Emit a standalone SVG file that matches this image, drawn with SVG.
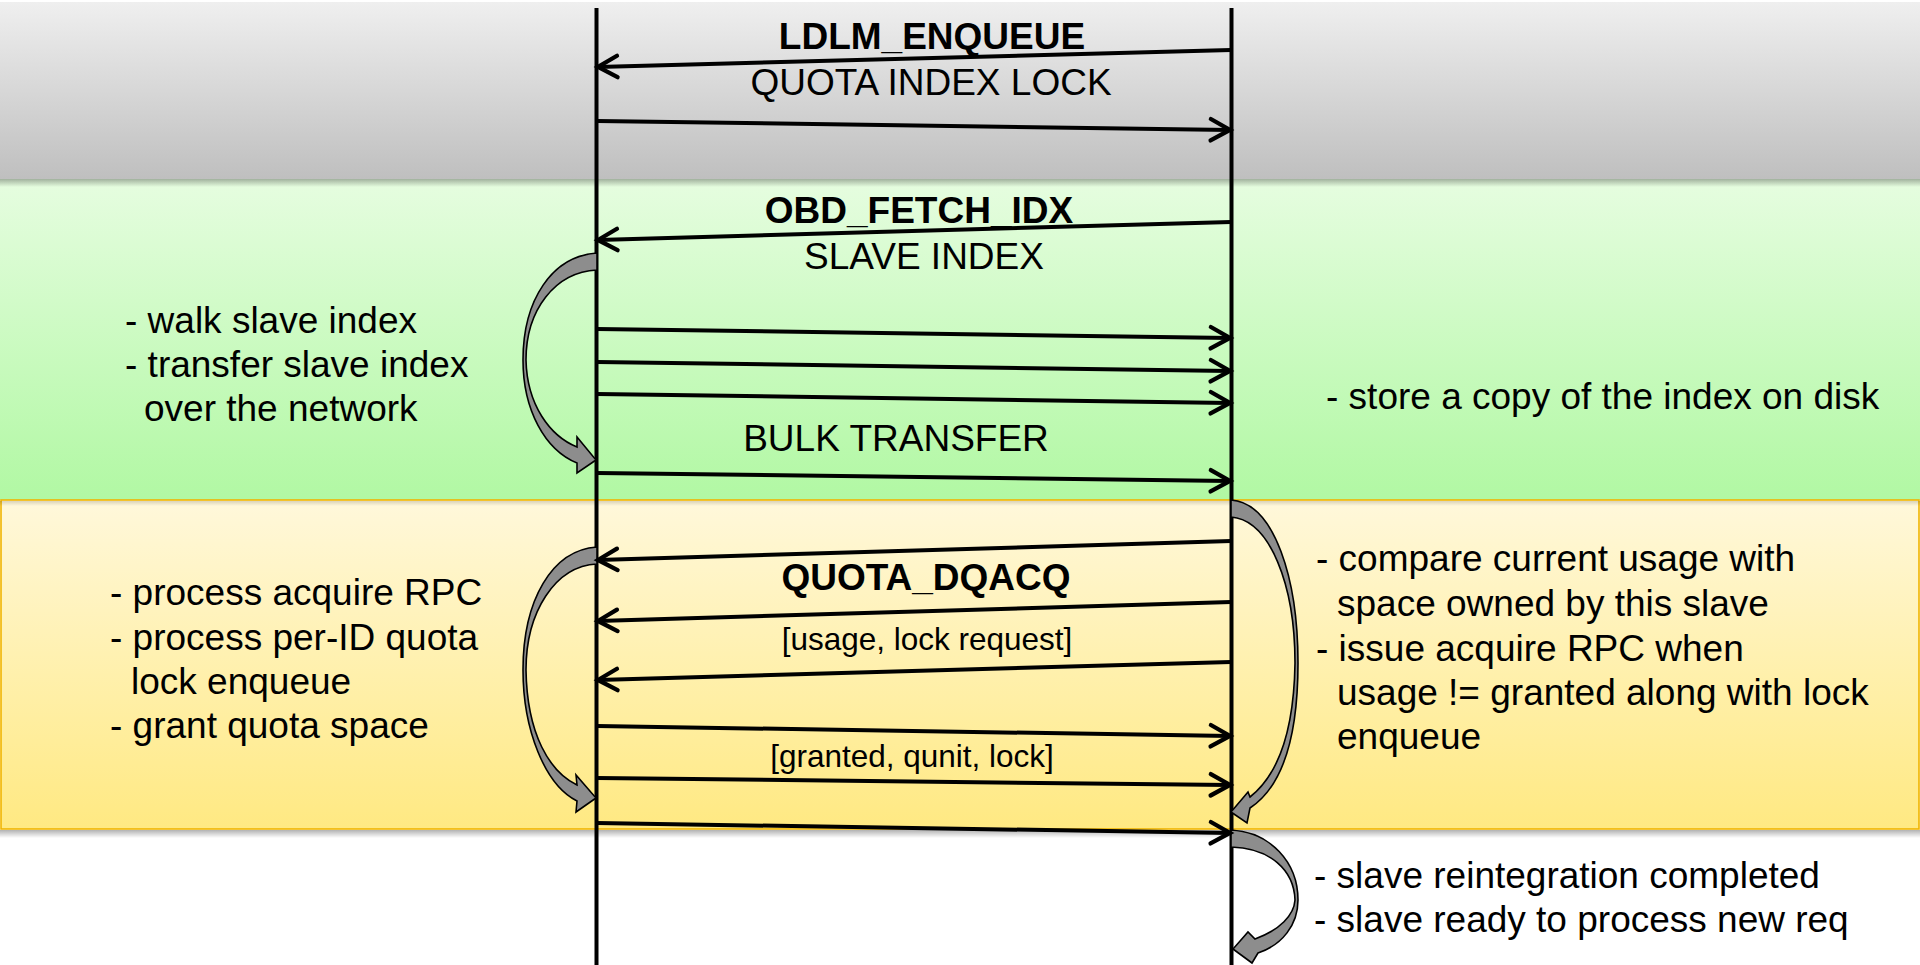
<svg xmlns="http://www.w3.org/2000/svg" width="1920" height="965" viewBox="0 0 1920 965">
  <defs>
    <linearGradient id="gGray" x1="0" y1="0" x2="0" y2="1">
      <stop offset="0" stop-color="#efefef"/>
      <stop offset="1" stop-color="#bfbfbf"/>
    </linearGradient>
    <linearGradient id="gGreen" x1="0" y1="0" x2="0" y2="1">
      <stop offset="0" stop-color="#e6fde0"/>
      <stop offset="1" stop-color="#b1f8a3"/>
    </linearGradient>
    <linearGradient id="gYellow" x1="0" y1="0" x2="0" y2="1">
      <stop offset="0" stop-color="#fff8db"/>
      <stop offset="1" stop-color="#ffe982"/>
    </linearGradient>
    <linearGradient id="gShadow" x1="0" y1="0" x2="0" y2="1">
      <stop offset="0" stop-color="#000" stop-opacity="0.30"/>
      <stop offset="1" stop-color="#000" stop-opacity="0"/>
    </linearGradient>
    <marker id="open" markerUnits="userSpaceOnUse" markerWidth="30" markerHeight="30" refX="0" refY="0" viewBox="-22 -14 26 28" orient="auto" overflow="visible">
      <path d="M -18 -10 L 0 0 L -18 10" fill="none" stroke="#000" stroke-width="4" stroke-linecap="round" stroke-linejoin="miter"/>
    </marker>
  </defs>
  <style>
    .life { stroke: #000; stroke-width: 4; fill: none; }
    .msg { stroke: #000; stroke-width: 4; fill: none; marker-end: url(#open); }
    .loop { fill: #8d8d8d; stroke: #000; stroke-width: 1.6; stroke-linejoin: miter; }
    .t { font-family: "Liberation Sans", Arial, sans-serif; font-size: 37px; fill: #000; }
    .b { font-weight: bold; }
    .s { font-size: 31.5px; }
    .c { text-anchor: middle; }
  </style>

  <!-- phase bands -->
  <g id="bands">
    <rect x="0" y="2" width="1920" height="177" fill="url(#gGray)"/>
    <rect x="0" y="179" width="1920" height="321" fill="url(#gGreen)"/>
    <rect x="1" y="500" width="1918" height="329" fill="url(#gYellow)" stroke="#f0b400" stroke-width="1.6"/>
    <rect x="0" y="179" width="1920" height="8" fill="url(#gShadow)"/>
    <rect x="0" y="501" width="1920" height="5" fill="url(#gShadow)" opacity="0.5"/>
    <rect x="0" y="830" width="1920" height="8" fill="url(#gShadow)"/>
  </g>

  <!-- lifelines -->
  <g id="lifelines">
    <line class="life" x1="596.5" y1="8" x2="596.5" y2="965"/>
    <line class="life" x1="1231.5" y1="8" x2="1231.5" y2="965"/>
  </g>

  <!-- local processing arcs -->
  <g id="loop-walk-index">
    <path class="loop" d="M 597 253 C 552 256, 523 300, 523 360 C 523 410, 545 450, 577 463 L 577 473 L 596 460 L 577 437 L 577 447 C 550 436, 527 405, 526 360 C 526 310, 555 272, 597 270 Z"/>
  </g>
  <g id="loop-acquire">
    <path class="loop" d="M 597 547 C 552 550, 523 600, 523 670 C 523 730, 545 785, 577 801 L 576 812 L 596 798 L 576 775 L 577 785 C 550 772, 527 735, 526 670 C 526 612, 555 566, 597 564 Z"/>
  </g>
  <g id="loop-compare">
    <path class="loop" d="M 1231 500 C 1275 503, 1298 580, 1298 663 C 1298 730, 1285 785, 1250 808 L 1247 823 L 1231 812 L 1248 792 L 1250 797 C 1278 775, 1294 730, 1295 663 C 1295 585, 1270 520, 1231 517 Z"/>
  </g>
  <g id="loop-reintegrate">
    <path class="loop" d="M 1231 830 C 1270 832, 1298 862, 1298 900 C 1298 925, 1282 945, 1258 953 L 1252 963 L 1233 949 L 1248 932 L 1255 939 C 1280 930, 1294 915, 1295 900 C 1294 870, 1270 848, 1231 847 Z"/>
  </g>

  <!-- messages -->
  <g id="connectors">
    <line class="msg" x1="1231" y1="50" x2="598" y2="67"/>
    <line class="msg" x1="597" y1="121" x2="1230" y2="130"/>

    <line class="msg" x1="1231" y1="222" x2="598" y2="240"/>
    <line class="msg" x1="597" y1="329" x2="1230" y2="338"/>
    <line class="msg" x1="597" y1="362" x2="1230" y2="371"/>
    <line class="msg" x1="597" y1="394" x2="1230" y2="403"/>
    <line class="msg" x1="597" y1="473" x2="1230" y2="481"/>

    <line class="msg" x1="1231" y1="541" x2="598" y2="560"/>
    <line class="msg" x1="1231" y1="602" x2="598" y2="621"/>
    <line class="msg" x1="1231" y1="662" x2="598" y2="680"/>
    <line class="msg" x1="597" y1="726" x2="1230" y2="736"/>
    <line class="msg" x1="597" y1="778" x2="1230" y2="785"/>
    <line class="msg" x1="597" y1="823" x2="1230" y2="833"/>
  </g>

  <!-- message labels -->
  <g id="labels">
    <text class="t b c" x="932" y="49">LDLM_ENQUEUE</text>
    <text class="t c" x="931" y="95">QUOTA INDEX LOCK</text>
    <text class="t b c" x="919" y="223">OBD_FETCH_IDX</text>
    <text class="t c" x="924" y="269">SLAVE INDEX</text>
    <text class="t c" x="896" y="451">BULK TRANSFER</text>
    <text class="t b c" x="926" y="590">QUOTA_DQACQ</text>
    <text class="t s c" x="927" y="650">[usage, lock request]</text>
    <text class="t s c" x="912" y="767">[granted, qunit, lock]</text>
  </g>

  <!-- notes -->
  <g id="note-walk">
    <text class="t" x="125" y="333">- walk slave index</text>
    <text class="t" x="125" y="377">- transfer slave index</text>
    <text class="t" x="144" y="421">over the network</text>
  </g>
  <g id="note-store">
    <text class="t" x="1326" y="409">- store a copy of the index on disk</text>
  </g>
  <g id="note-acquire">
    <text class="t" x="110" y="605">- process acquire RPC</text>
    <text class="t" x="110" y="650">- process per-ID quota</text>
    <text class="t" x="131" y="694">lock enqueue</text>
    <text class="t" x="110" y="738">- grant quota space</text>
  </g>
  <g id="note-compare">
    <text class="t" x="1316" y="571">- compare current usage with</text>
    <text class="t" x="1337" y="616">space owned by this slave</text>
    <text class="t" x="1316" y="661">- issue acquire RPC when</text>
    <text class="t" x="1337" y="705">usage != granted along with lock</text>
    <text class="t" x="1337" y="749">enqueue</text>
  </g>
  <g id="note-complete">
    <text class="t" x="1314" y="888">- slave reintegration completed</text>
    <text class="t" x="1314" y="932">- slave ready to process new req</text>
  </g>
</svg>
